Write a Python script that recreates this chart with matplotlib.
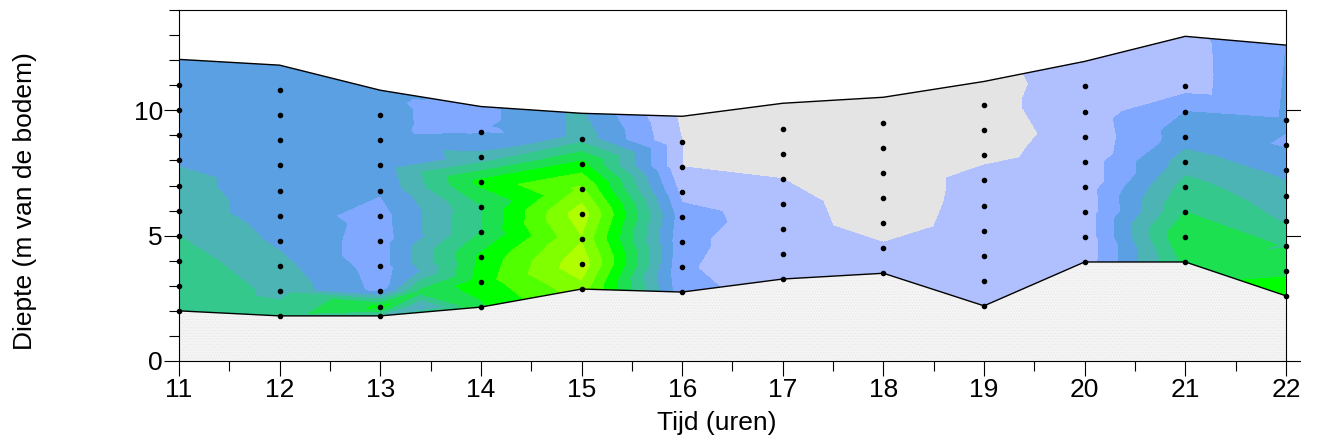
#!/usr/bin/python3

import matplotlib
matplotlib.use("Agg")
import numpy as np
import matplotlib.pyplot as plt
import matplotlib.tri as tri
from matplotlib.patches import Polygon

plt.rcParams['font.family'] = ['Liberation Sans', 'DejaVu Sans']
plt.rcParams['hatch.linewidth'] = 0.3

hours = [11, 12, 13, 14, 15, 16, 17, 18, 19, 20, 21, 22]
surface = [12.03, 11.8, 10.8, 10.15, 9.88, 9.76, 10.28, 10.52, 11.15, 11.95, 12.95, 12.6]
bottom = [2.0, 1.8, 1.8, 2.15, 2.87, 2.75, 3.27, 3.5, 2.2, 3.95, 3.95, 2.6]

# value at the water surface, for each hour
surface_values = [3.5, 3.5, 3.5, 2.5, 4.1, 0.8, 0.5, 0.5, 0.68, 1.5, 1.7, 3.0]

# measuring depths per hour
depths = [
    [11, 10, 9, 8, 7, 6, 5, 4, 3, 2],
    [10.8, 9.8, 8.8, 7.8, 6.8, 5.8, 4.8, 3.8, 2.8, 1.8],
    [9.8, 8.8, 7.8, 6.8, 5.8, 4.8, 3.8, 2.8, 2.15, 1.8],
    [9.15, 8.15, 7.15, 6.15, 5.15, 4.15, 3.15, 2.15],
    [8.87, 7.87, 6.87, 5.87, 4.87, 3.87, 2.87],
    [8.75, 7.75, 6.75, 5.75, 4.75, 3.75, 2.75],
    [9.27, 8.27, 7.27, 6.27, 5.27, 4.27, 3.27],
    [9.5, 8.5, 7.5, 6.5, 5.5, 4.5, 3.5],
    [10.2, 9.2, 8.2, 7.2, 6.2, 5.2, 4.2, 3.2, 2.2],
    [10.95, 9.95, 8.95, 7.95, 6.95, 5.95, 4.95, 3.95],
    [10.95, 9.95, 8.95, 7.95, 6.95, 5.95, 4.95, 3.95],
    [9.6, 8.6, 7.6, 6.6, 5.6, 4.6, 3.6, 2.6],
]

# estimated values at those depths, in units of the colour classes
values = [
    [3.5, 3.5, 3.5, 3.9, 4.3, 4.5, 5.0, 5.5, 5.9, 5.9],
    [3.5, 3.5, 3.5, 3.5, 3.5, 3.5, 3.8, 4.3, 4.7, 5.5],
    [3.5, 3.5, 3.4, 3.1, 2.6, 2.5, 2.5, 2.7, 7.2, 4.5],
    [2.9, 4.3, 7.3, 5.9, 6.0, 7.2, 7.5, 6.8],
    [4.6, 7.3, 9.2, 10.6, 9.9, 10.7, 9.6],
    [1.0, 1.0, 1.7, 2.4, 2.2, 2.1, 2.3],
    [0.5, 0.5, 1.0, 1.4, 1.5, 1.5, 1.5],
    [0.4, 0.4, 0.4, 0.4, 0.5, 1.15, 1.5],
    [0.75, 0.65, 0.78, 1.35, 1.4, 1.5, 1.5, 1.5, 1.5],
    [1.4, 1.4, 1.3, 1.4, 1.4, 1.35, 1.3, 1.35],
    [1.6, 3.0, 3.5, 4.5, 5.4, 6.0, 7.0, 6.3],
    [3.1, 2.9, 3.7, 4.4, 4.9, 5.9, 6.8, 7.6],
]

# readings from the picture between the hours, where the contours bend
extra_hours = [13.3, 13.3, 13.3, 13.36, 13.36, 13.36, 13.7, 13.7,
               14.16, 14.16, 14.16, 14.22, 14.22, 14.22,
               14.8, 14.8, 14.85, 14.85,
               13.4, 13.4, 13.4, 21.27, 21.27]
extra_depths = [10.5, 9.8, 9.0, 10.45, 9.8, 9.1, 9.3, 8.85,
                10.08, 9.6, 9.1, 10.06, 9.55, 9.0,
                9.93, 9.0, 9.9, 9.0,
                3.6, 2.75, 2.15, 12.7, 10.6]
extra_values = [3.1, 3.1, 3.1, 2.8, 2.8, 2.9, 2.8, 3.2,
                2.8, 2.8, 2.9, 3.1, 3.1, 3.2,
                3.6, 3.7, 4.02, 4.05,
                4.0, 6.3, 3.6, 2.0, 2.0]

levels = [-1, 1, 2, 3, 4, 5, 6, 7, 8, 9, 10, 12]
colors = ["#e4e4e4", "#b0c0ff", "#80a8ff", "#5ca0e4", "#4cb4b4", "#34c88c",
          "#1ce050", "#00ff00", "#50ff00", "#80ff00", "#b0ff00"]


def main():
    fig = plt.figure(figsize=(13.19, 4.43), dpi=100)
    ax = fig.add_axes([179 / 1319, 1 - 361 / 443, (1300 - 179) / 1319, 351 / 443])

    x, y, z = [], [], []
    for i, hour in enumerate(hours):
        x += [hour] * (len(depths[i]) + 1)
        y += [surface[i]] + depths[i]
        z += [surface_values[i]] + values[i]
    x += extra_hours
    y += extra_depths
    z += extra_values

    mesh = tri.Triangulation(x, y)
    cs = ax.tricontourf(mesh, z, levels=levels, colors=colors)
    water = Polygon(list(zip(hours + hours[::-1], surface + bottom[::-1])),
                    transform=ax.transData, facecolor="none", edgecolor="none")
    ax.add_patch(water)
    cs.set_clip_path(water)

    ax.fill_between(hours, 0, bottom, facecolor="#f4f4f4", edgecolor="#e2e2e2",
                    hatch="......", linewidth=0)
    ax.plot(hours, surface, color="black", linewidth=1)
    ax.plot(hours, bottom, color="black", linewidth=1)

    for i, hour in enumerate(hours):
        ax.plot([hour] * len(depths[i]), depths[i], "o", color="black",
                markersize=3, clip_on=False, zorder=5)

    ax.set_xlim(11, 22.14)
    ax.set_ylim(0, 14)
    ax.set_xticks(hours)
    ax.set_xticks(np.arange(11.5, 22, 1), minor=True)
    ax.set_yticks([0, 5, 10])
    ax.set_yticks(np.arange(0, 15, 1), minor=True)
    ax.tick_params(axis="both", which="major", labelsize=19, length=10.5, width=0.8, pad=2)
    ax.tick_params(axis="both", which="minor", length=7, width=0.8)
    ax.tick_params(axis="y", which="major", pad=1)

    ax.spines["right"].set_position(("data", 22))
    ax.spines["top"].set_bounds(11, 22)

    # ticks on the right hand axis, outside the plot
    for d in [5, 10]:
        ax.plot([22, 22.14], [d, d], color="black", linewidth=0.8, clip_on=False)

    fig.text(717 / 1319, 1 - 423 / 443, "Tijd (uren)", fontsize=19, ha="center", va="center")
    fig.text(25 / 1319, 1 - 201 / 443, "Diepte (m van de bodem)", fontsize=19,
             rotation=90, ha="center", va="center")

    fig.savefig("out.png", dpi=100)


if __name__ == "__main__":
    main()
